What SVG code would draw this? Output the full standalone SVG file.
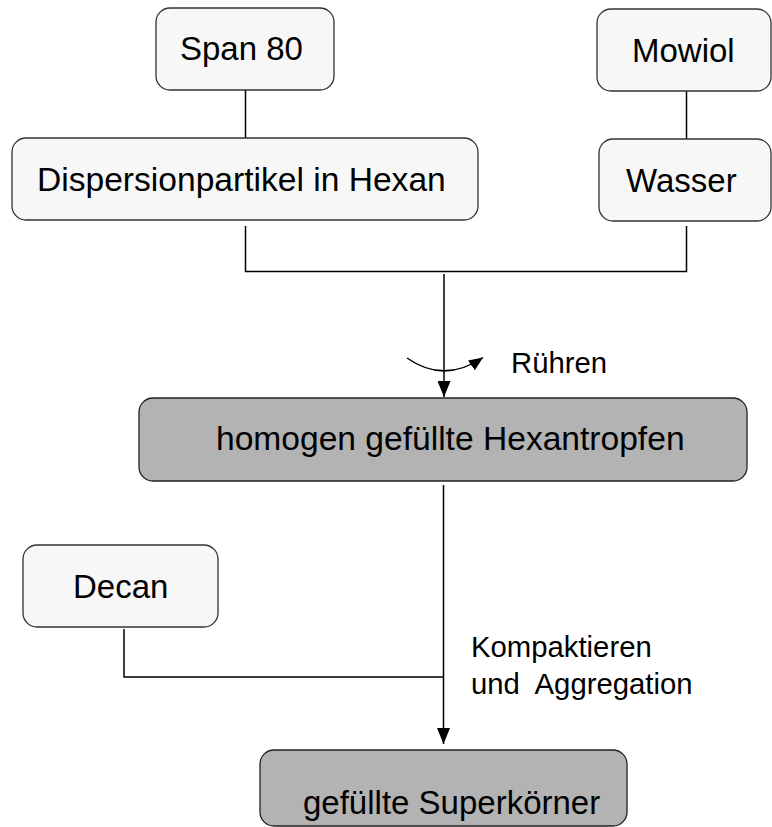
<svg xmlns="http://www.w3.org/2000/svg" width="772" height="827" viewBox="0 0 772 827">
<defs>
<style>
.box{fill:#f7f7f7;stroke:#333;stroke-width:1.3}
.dark{fill:#b3b3b3;stroke:#222;stroke-width:1.3}
.t{font-family:"Liberation Sans",Arial,sans-serif;font-size:33px;fill:#000}
.lbl{font-family:"Liberation Sans",Arial,sans-serif;font-size:29.3px;fill:#000;white-space:pre}
.ln{fill:none;stroke:#000;stroke-width:1.5}
</style>
<marker id="ah" viewBox="0 0 16 13" refX="16" refY="6.5" markerWidth="16" markerHeight="13" markerUnits="userSpaceOnUse" orient="auto">
<path d="M0,0 L16,6.5 L0,13 Z" fill="#000"/>
</marker>
<marker id="ahs" viewBox="0 0 14 12" refX="14" refY="6" markerWidth="14" markerHeight="12" markerUnits="userSpaceOnUse" orient="auto">
<path d="M0,0 L14,6 L0,12 Z" fill="#000"/>
</marker>
</defs>
<rect width="772" height="827" fill="#fff"/>
<g id="connectors">
<line class="ln" x1="245.5" y1="90" x2="245.5" y2="138"/>
<line class="ln" x1="686.5" y1="91" x2="686.5" y2="139"/>
<polyline class="ln" points="245.5,226 245.5,271.5 686.5,271.5 686.5,226"/>
<line class="ln" x1="444" y1="274" x2="444" y2="397" marker-end="url(#ah)"/>
<path class="ln" d="M407,358 Q444,384 483,357.5" stroke-width="1.2" marker-end="url(#ahs)"/>
<line class="ln" x1="443.5" y1="485" x2="443.5" y2="744" marker-end="url(#ah)"/>
<polyline class="ln" points="124,629 124,677 443.5,677"/>
</g>
<g id="span80">
<rect class="box" x="156" y="8" width="178" height="82" rx="14"/>
<text class="t" x="180" y="60">Span 80</text>
</g>
<g id="dispersion">
<rect class="box" x="12" y="138" width="466" height="82" rx="14"/>
<text class="t" x="37" y="191" style="font-size:33.6px">Dispersionpartikel in Hexan</text>
</g>
<g id="mowiol">
<rect class="box" x="597" y="9" width="174" height="82" rx="14"/>
<text class="t" x="632" y="62">Mowiol</text>
</g>
<g id="wasser">
<rect class="box" x="599" y="139" width="172" height="82" rx="14"/>
<text class="t" x="626" y="192">Wasser</text>
</g>
<g id="ruehren">
<text class="lbl" x="511" y="373">Rühren</text>
</g>
<g id="hexantropfen">
<rect class="dark" x="139" y="398" width="608" height="83" rx="14"/>
<text class="t" x="216" y="450" style="font-size:33.6px">homogen gefüllte Hexantropfen</text>
</g>
<g id="decan">
<rect class="box" x="23" y="545" width="195" height="82" rx="14"/>
<text class="t" x="73" y="598">Decan</text>
</g>
<g id="kompaktieren">
<text class="lbl" x="471" y="657">Kompaktieren</text>
<text class="lbl" x="471" y="694" xml:space="preserve">und  Aggregation</text>
</g>
<g id="superkoerner">
<rect class="dark" x="260" y="750" width="367" height="76" rx="14"/>
<text class="t" x="303" y="814">gefüllte Superkörner</text>
</g>
</svg>
